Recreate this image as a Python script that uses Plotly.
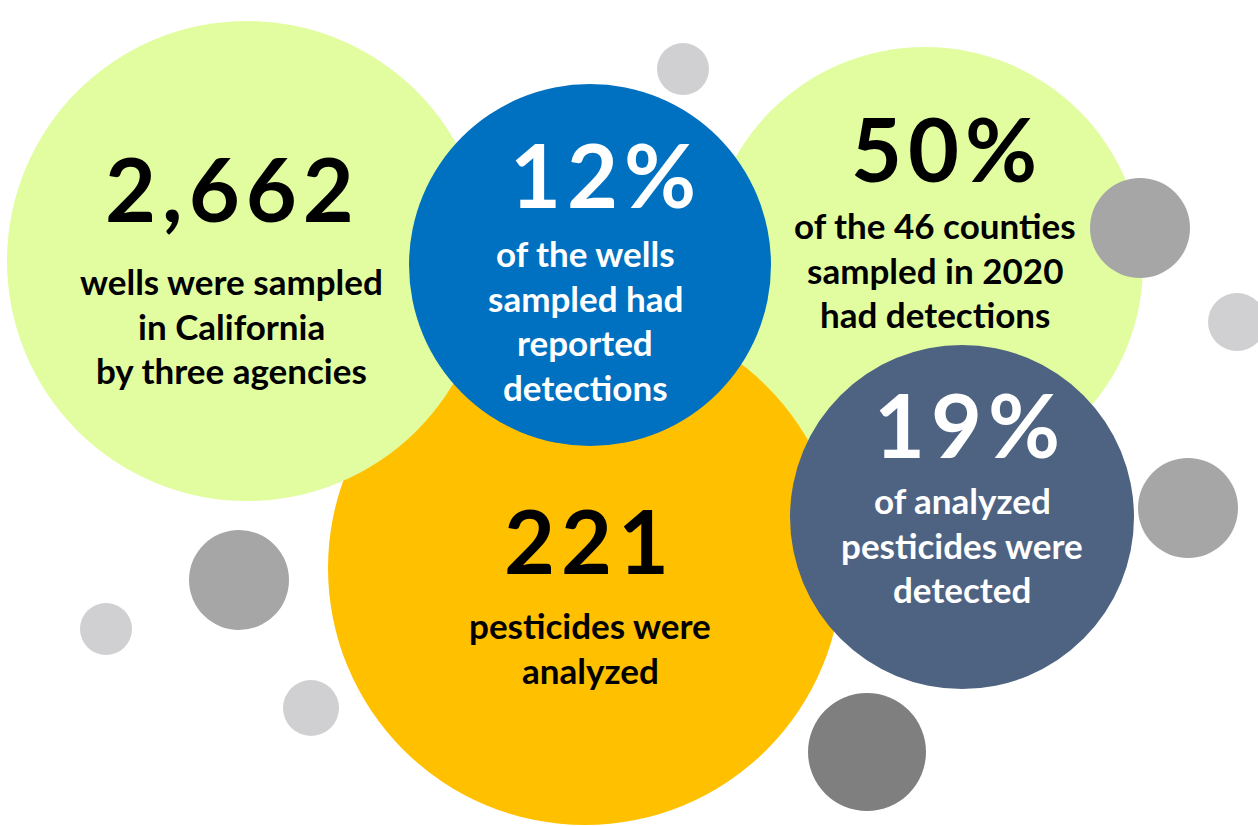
import plotly.graph_objects as go

# ---- data ----
headline_values = ["2,662", "12%", "50%", "221", "19%"]
captions = [
    ["wells were sampled", "in California", "by three agencies"],
    ["of the wells", "sampled had", "reported", "detections"],
    ["of the 46 counties", "sampled in 2020", "had detections"],
    ["pesticides were", "analyzed"],
    ["of analyzed", "pesticides were", "detected"],
]

# ---- layout / style spec (pixels) ----
W, H = 1258, 826
# big circles: (cx, cy, r, color), drawn in this order
big_circles = [
    (925, 265, 218, "#e2fda0"),   # right green (50%)
    (585, 568, 257, "#ffc000"),   # yellow (221)
    (247, 261, 240, "#e2fda0"),   # left green (2,662)
    (590, 265, 181, "#0070c0"),   # blue (12%)
    (962, 517, 172, "#4e6382"),   # slate (19%)
]
small_circles = [
    (683, 69, 26, "#d0cfd1"),
    (1140, 228, 50, "#a6a6a6"),
    (1237, 322, 29, "#d0cfd1"),
    (1188, 508, 50, "#a6a6a6"),
    (239, 580, 50, "#a6a6a6"),
    (106, 629, 26, "#d0cfd1"),
    (311, 708, 28, "#d0cfd1"),
    (867, 752, 59, "#7f7f7f"),
]
# text blocks: (headline x, headline y, caption x, first caption y, color)
text_blocks = [
    (232, 188, 231, 281, "#000000"),
    (606, 174, 585, 253, "#ffffff"),
    (947, 148, 935, 225, "#000000"),
    (589, 540, 590, 625, "#000000"),
    (970, 424, 962, 500, "#ffffff"),
]
LINE_GAP = 44.5
FONT = "Lato"

fig = go.Figure()
fig.add_trace(go.Scatter(x=[0, W], y=[0, H], mode="markers",
                         marker=dict(opacity=0), hoverinfo="skip", showlegend=False))

shapes = []
for cx, cy, r, col in big_circles + small_circles:
    shapes.append(dict(type="circle", xref="x", yref="y",
                       x0=cx - r, x1=cx + r, y0=cy - r, y1=cy + r,
                       fillcolor=col, line=dict(width=0), layer="above"))

annotations = []
for val, caps, (hx, hy, cx, cy0, col) in zip(headline_values, captions, text_blocks):
    annotations.append(dict(
        x=hx, y=hy, xref="x", yref="y", showarrow=False,
        text=f'<span style="letter-spacing:6px">{val}</span>',
        font=dict(family=FONT, size=88, color=col, weight=700),
        xanchor="center", yanchor="middle"))
    for i, line in enumerate(caps):
        annotations.append(dict(
            x=cx, y=cy0 + i * LINE_GAP, xref="x", yref="y", showarrow=False,
            text=line, font=dict(family=FONT, size=35, color=col, weight=700),
            xanchor="center", yanchor="middle"))

fig.update_layout(
    width=W, height=H, autosize=False,
    margin=dict(l=0, r=0, t=0, b=0, pad=0),
    paper_bgcolor="white", plot_bgcolor="white",
    xaxis=dict(range=[0, W], visible=False, fixedrange=True),
    yaxis=dict(range=[H, 0], visible=False, fixedrange=True),
    shapes=shapes, annotations=annotations, showlegend=False,
)

fig.write_html("out.html", config={"displayModeBar": False},
               post_script="document.body.style.margin='0';document.body.style.overflow='hidden';")
